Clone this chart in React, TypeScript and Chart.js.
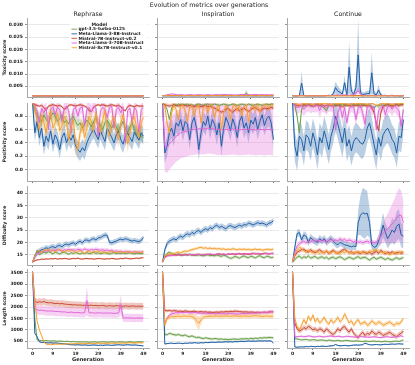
import React, { useEffect, useRef } from 'react';
import { Chart, registerables } from 'chart.js';
Chart.register(...registerables);

const FONT = "'DejaVu Sans', sans-serif";

// ---------- categories / labels ----------
const GENERATION = [
  0, 1, 2, 3, 4, 5, 6, 7, 8, 9,
  10, 11, 12, 13, 14, 15, 16, 17, 18, 19,
  20, 21, 22, 23, 24, 25, 26, 27, 28, 29,
  30, 31, 32, 33, 34, 35, 36, 37, 38, 39,
  40, 41, 42, 43, 44, 45, 46, 47, 48, 49,
];
const X_TICKS = [0, 9, 19, 29, 39, 49];
const SUPTITLE = 'Evolution of metrics over generations';
const TASKS = ['Rephrase', 'Inspiration', 'Continue'];
const METRICS = ['Toxicity score', 'Positivity score', 'Difficulty score', 'Length score'];
const MODELS = [
  'gpt-3.5-turbo-0125',
  'Meta-Llama-3-8B-Instruct',
  'Mistral-7B-Instruct-v0.2',
  'Meta-Llama-3-70B-Instruct',
  'Mistral-8x7B-Instruct-v0.1',
];
const COLORS = ['#6a9e48', '#1f5fa6', '#c9452e', '#e066d6', '#f5a030'];
const Y_TICKS_TOX = [0.005, 0.01, 0.015, 0.02, 0.025, 0.03];
const Y_TICKS_POS = [0, 0.2, 0.4, 0.6, 0.8];
const Y_TICKS_DIFF = [15, 20, 25, 30, 35, 40];
const Y_TICKS_LEN = [500, 1000, 1500, 2000, 2500, 3000, 3500];

// ---------- Toxicity ----------
const tox_reph_gpt = [
  .0011, .0011, .0012, .0011, .0011, .0011, .0012, .0011, .0011, .0011,
  .0011, .0012, .0011, .0011, .0011, .0011, .0011, .0012, .0011, .0011,
  .0011, .0011, .0011, .0012, .0011, .0011, .0011, .0011, .0012, .0011,
  .0011, .0011, .0012, .0011, .0011, .0011, .0011, .0011, .0011, .0012,
  .0011, .0011, .0011, .0011, .0012, .0011, .0011, .0011, .0011, .0011,
];
const tox_reph_llama8 = [
  .0011, .0011, .0011, .0011, .0011, .0011, .0011, .0011, .0011, .0011,
  .0011, .0011, .0011, .0011, .0011, .0011, .0011, .0011, .0011, .0011,
  .0011, .0011, .0011, .0011, .0011, .0011, .0011, .0011, .0011, .0011,
  .0011, .0011, .0011, .0011, .0011, .0011, .0011, .0011, .0011, .0011,
  .0011, .0011, .0011, .0011, .0011, .0011, .0011, .0011, .0011, .0011,
];
const tox_reph_mistral7 = [
  .0011, .0011, .0011, .0011, .0012, .0011, .0011, .0011, .0011, .0011,
  .0011, .0011, .0011, .0011, .0011, .0012, .0011, .0011, .0011, .0011,
  .0011, .0011, .0011, .0011, .0011, .0011, .0011, .0012, .0011, .0011,
  .0011, .0011, .0011, .0011, .0011, .0011, .0012, .0011, .0011, .0011,
  .0011, .0011, .0011, .0011, .0011, .0011, .0011, .0011, .0012, .0011,
];
const tox_reph_llama70 = [
  .0011, .0011, .0011, .0012, .0011, .0011, .0011, .0011, .0011, .0012,
  .0011, .0011, .0011, .0011, .0011, .0011, .0011, .0011, .0012, .0011,
  .0011, .0011, .0012, .0011, .0011, .0011, .0011, .0011, .0011, .0011,
  .0012, .0011, .0011, .0011, .0011, .0011, .0011, .0011, .0012, .0011,
  .0011, .0011, .0011, .0012, .0011, .0011, .0011, .0011, .0011, .0011,
];
const tox_reph_mixtral = [
  .0011, .0011, .0011, .0011, .0011, .0011, .0011, .0011, .0011, .0011,
  .0011, .0011, .0011, .0011, .0011, .0011, .0011, .0011, .0011, .0011,
  .0011, .0011, .0011, .0011, .0011, .0011, .0011, .0011, .0011, .0011,
  .0011, .0011, .0011, .0011, .0011, .0011, .0011, .0011, .0011, .0011,
  .0011, .0011, .0011, .0011, .0011, .0011, .0011, .0011, .0011, .0011,
];
const tox_reph_err = [0.0001, 0.0001, 0.0001, 0.0001, 0.0001];

const tox_insp_gpt = [
  .0012, .0012, .0013, .0012, .0012, .0012, .0013, .0012, .0012, .0012,
  .0012, .0013, .0012, .0012, .0012, .0012, .0012, .0013, .0012, .0012,
  .0012, .0012, .0012, .0013, .0012, .0012, .0012, .0012, .0013, .0012,
  .0012, .0012, .0013, .0012, .0012, .0013, .0015, .0022, .0014, .0012,
  .0012, .0012, .0012, .0012, .0013, .0012, .0012, .0012, .0012, .0012,
];
const tox_insp_gpt_err = [
  .0002, .0002, .0002, .0002, .0002, .0002, .0002, .0002, .0002, .0002,
  .0002, .0002, .0002, .0002, .0002, .0002, .0002, .0002, .0002, .0002,
  .0002, .0002, .0002, .0002, .0002, .0002, .0002, .0002, .0002, .0002,
  .0002, .0002, .0002, .0002, .0002, .0002, .0004, .0013, .0004, .0002,
  .0002, .0002, .0002, .0002, .0002, .0002, .0002, .0002, .0002, .0002,
];
const tox_insp_llama8 = [
  .0011, .0011, .0011, .0011, .0011, .0011, .0011, .0011, .0011, .0011,
  .0011, .0011, .0011, .0011, .0011, .0011, .0011, .0011, .0011, .0011,
  .0011, .0011, .0011, .0011, .0011, .0011, .0011, .0011, .0011, .0011,
  .0011, .0011, .0011, .0011, .0011, .0011, .0011, .0011, .0011, .0011,
  .0011, .0011, .0011, .0011, .0011, .0011, .0011, .0011, .0011, .0011,
];
const tox_insp_mistral7 = [
  .0012, .0012, .0012, .0012, .0012, .0012, .0012, .0012, .0012, .0012,
  .0012, .0012, .0012, .0012, .0012, .0012, .0012, .0012, .0012, .0012,
  .0012, .0012, .0012, .0012, .0012, .0012, .0012, .0012, .0012, .0012,
  .0012, .0012, .0012, .0012, .0012, .0012, .0012, .0012, .0012, .0012,
  .0012, .0012, .0012, .0012, .0012, .0012, .0012, .0012, .0012, .0012,
];
const tox_insp_llama70 = [
  .0012, .0013, .0015, .0017, .0019, .0018, .0016, .0015, .0016, .0015,
  .0014, .0015, .0016, .0015, .0014, .0015, .0016, .0015, .0014, .0015,
  .0016, .0015, .0014, .0015, .0016, .0015, .0016, .0017, .0016, .0015,
  .0016, .0015, .0014, .0015, .0016, .0017, .0016, .0015, .0016, .0015,
  .0016, .0017, .0016, .0015, .0016, .0015, .0016, .0015, .0016, .0015,
];
const tox_insp_mixtral = [
  .0012, .0012, .0012, .0012, .0012, .0012, .0012, .0012, .0012, .0012,
  .0012, .0012, .0012, .0012, .0012, .0012, .0012, .0012, .0012, .0012,
  .0012, .0012, .0012, .0012, .0012, .0012, .0012, .0012, .0012, .0012,
  .0012, .0012, .0012, .0012, .0012, .0012, .0012, .0012, .0012, .0012,
  .0012, .0012, .0012, .0012, .0012, .0012, .0012, .0012, .0012, .0012,
];
const tox_insp_err = [tox_insp_gpt_err, 0.0001, 0.0001, 0.0002, 0.0001];

const tox_cont_gpt = [
  .0012, .0012, .0012, .0012, .0012, .0012, .0012, .0012, .0012, .0012,
  .0012, .0012, .0012, .0012, .0012, .0012, .0012, .0012, .0012, .0012,
  .0012, .0012, .0012, .0012, .0012, .0012, .0012, .0012, .0012, .0012,
  .0012, .0012, .0012, .0012, .0012, .0012, .0012, .0012, .0012, .0012,
  .0012, .0012, .0012, .0012, .0012, .0012, .0012, .0012, .0012, .0012,
];
const tox_cont_llama8 = [
  .0011, .0011, .0011, .0012, .0063, .0012, .0011, .0011, .0011, .0011,
  .0011, .0011, .0011, .0011, .0011, .0012, .0013, .0012, .0020, .0045,
  .0030, .0025, .0018, .0065, .0015, .0128, .0030, .0017, .0045, .0178,
  .0025, .0016, .0018, .0020, .0020, .0105, .0020, .0015, .0035, .0015,
  .0012, .0013, .0011, .0012, .0013, .0011, .0012, .0011, .0011, .0011,
];
const tox_cont_llama8_err = [
  .0002, .0002, .0002, .0003, .0047, .0003, .0002, .0002, .0002, .0002,
  .0002, .0002, .0002, .0002, .0002, .0003, .0004, .0003, .0010, .0024,
  .0020, .0015, .0010, .0030, .0008, .0107, .0020, .0010, .0030, .0147,
  .0015, .0010, .0010, .0012, .0012, .0085, .0012, .0008, .0020, .0008,
  .0003, .0004, .0002, .0003, .0004, .0002, .0003, .0002, .0002, .0002,
];
const tox_cont_mistral7 = [
  .0012, .0012, .0012, .0012, .0012, .0012, .0012, .0012, .0012, .0012,
  .0012, .0012, .0012, .0012, .0012, .0012, .0012, .0012, .0012, .0012,
  .0012, .0012, .0012, .0012, .0012, .0012, .0012, .0012, .0012, .0012,
  .0012, .0012, .0012, .0012, .0012, .0012, .0012, .0012, .0012, .0012,
  .0012, .0012, .0012, .0012, .0012, .0012, .0012, .0012, .0012, .0012,
];
const tox_cont_llama70 = [
  .0012, .0012, .0012, .0012, .0012, .0012, .0012, .0012, .0012, .0012,
  .0012, .0012, .0012, .0012, .0012, .0012, .0012, .0012, .0013, .0014,
  .0014, .0013, .0014, .0015, .0014, .0013, .0014, .0016, .0024, .0032,
  .0020, .0014, .0013, .0012, .0012, .0012, .0012, .0012, .0012, .0012,
  .0012, .0012, .0012, .0012, .0012, .0012, .0012, .0012, .0012, .0012,
];
const tox_cont_llama70_err = [
  .0002, .0002, .0002, .0002, .0002, .0002, .0002, .0002, .0002, .0002,
  .0002, .0002, .0002, .0002, .0002, .0002, .0002, .0002, .0002, .0002,
  .0002, .0002, .0002, .0002, .0002, .0002, .0002, .0004, .0008, .0012,
  .0006, .0003, .0002, .0002, .0002, .0002, .0002, .0002, .0002, .0002,
  .0002, .0002, .0002, .0002, .0002, .0002, .0002, .0002, .0002, .0002,
];
const tox_cont_mixtral = [
  .0011, .0011, .0011, .0011, .0011, .0011, .0011, .0011, .0011, .0011,
  .0011, .0011, .0011, .0011, .0011, .0011, .0011, .0011, .0011, .0011,
  .0011, .0011, .0011, .0011, .0011, .0011, .0011, .0011, .0011, .0011,
  .0011, .0011, .0011, .0011, .0011, .0011, .0011, .0011, .0011, .0011,
  .0011, .0011, .0011, .0011, .0011, .0011, .0011, .0011, .0011, .0011,
];
const tox_cont_err = [0.0001, tox_cont_llama8_err, 0.0001, tox_cont_llama70_err, 0.0001];

// ---------- Positivity ----------
const pos_reph_gpt = [
  1.0, 0.90, 0.80, 0.78, 0.72, 0.82, 0.75, 0.70, 0.78, 0.85,
  0.80, 0.72, 0.76, 0.82, 0.70, 0.74, 0.68, 0.76, 0.80, 0.72,
  0.66, 0.70, 0.62, 0.68, 0.74, 0.70, 0.64, 0.72, 0.78, 0.70,
  0.66, 0.60, 0.70, 0.74, 0.68, 0.62, 0.70, 0.64, 0.58, 0.66,
  0.72, 0.62, 0.56, 0.64, 0.70, 0.60, 0.52, 0.58, 0.50, 0.48,
];
const pos_reph_llama8 = [
  1.0, 0.55, 0.72, 0.48, 0.62, 0.35, 0.50, 0.42, 0.58, 0.38,
  0.52, 0.45, 0.30, 0.48, 0.55, 0.40, 0.50, 0.44, 0.52, 0.36,
  0.30, 0.26, 0.33, 0.28, 0.40, 0.48, 0.55, 0.60, 0.52, 0.45,
  0.58, 0.50, 0.42, 0.62, 0.55, 0.48, 0.40, 0.52, 0.58, 0.45,
  0.38, 0.50, 0.55, 0.48, 0.42, 0.56, 0.50, 0.44, 0.55, 0.50,
];
const pos_reph_mistral7 = [
  1.0, 0.97, 0.96, 0.95, 0.96, 0.93, 0.88, 0.95, 0.96, 0.97,
  0.96, 0.95, 0.96, 0.94, 0.90, 0.92, 0.96, 0.97, 0.96, 0.95,
  0.96, 0.97, 0.96, 0.95, 0.93, 0.88, 0.87, 0.93, 0.96, 0.97,
  0.96, 0.97, 0.96, 0.95, 0.96, 0.97, 0.96, 0.95, 0.96, 0.94,
  0.90, 0.88, 0.94, 0.96, 0.95, 0.94, 0.96, 0.95, 0.95, 0.95,
];
const pos_reph_llama70 = [
  1.0, 0.95, 0.88, 0.70, 0.92, 0.85, 0.93, 0.60, 0.90, 0.94,
  0.82, 0.93, 0.90, 0.72, 0.92, 0.95, 0.88, 0.55, 0.90, 0.93,
  0.80, 0.92, 0.94, 0.65, 0.90, 0.93, 0.86, 0.95, 0.92, 0.50,
  0.88, 0.93, 0.90, 0.78, 0.93, 0.95, 0.62, 0.90, 0.93, 0.85,
  0.94, 0.40, 0.88, 0.92, 0.70, 0.93, 0.88, 0.55, 0.90, 0.92,
];
const pos_reph_mixtral = [
  1.0, 0.92, 0.75, 0.60, 0.82, 0.70, 0.55, 0.78, 0.88, 0.62,
  0.70, 0.85, 0.58, 0.66, 0.80, 0.72, 0.45, 0.62, 0.75, 0.40,
  0.30, 0.55, 0.70, 0.48, 0.62, 0.80, 0.72, 0.58, 0.85, 0.68,
  0.55, 0.75, 0.88, 0.62, 0.50, 0.72, 0.80, 0.58, 0.45, 0.70,
  0.82, 0.60, 0.38, 0.55, 0.72, 0.80, 0.62, 0.48, 0.70, 0.78,
];
const pos_reph_err = [0.08, 0.13, 0.02, 0.10, 0.12];

const pos_insp_gpt = [
  1.0, 0.96, 0.90, 0.75, 0.92, 0.97, 0.96, 0.98, 0.97, 0.96,
  0.97, 0.98, 0.96, 0.97, 0.95, 0.97, 0.98, 0.97, 0.96, 0.97,
  0.98, 0.96, 0.97, 0.98, 0.97, 0.96, 0.97, 0.98, 0.97, 0.96,
  0.97, 0.98, 0.97, 0.96, 0.97, 0.98, 0.97, 0.96, 0.98, 0.97,
  0.96, 0.97, 0.98, 0.97, 0.96, 0.97, 0.98, 0.97, 0.98, 0.98,
];
const pos_insp_llama8 = [
  0.98, 0.25, 0.35, 0.55, 0.62, 0.50, 0.70, 0.65, 0.75, 0.58,
  0.72, 0.68, 0.45, 0.70, 0.78, 0.62, 0.30, 0.55, 0.72, 0.66,
  0.80, 0.60, 0.75, 0.68, 0.52, 0.70, 0.35, 0.62, 0.78, 0.70,
  0.58, 0.76, 0.66, 0.48, 0.72, 0.80, 0.62, 0.70, 0.55, 0.74,
  0.68, 0.78, 0.60, 0.72, 0.82, 0.66, 0.76, 0.80, 0.70, 0.45,
];
const pos_insp_mistral7 = [
  1.0, 0.97, 0.96, 0.95, 0.96, 0.97, 0.96, 0.95, 0.96, 0.97,
  0.96, 0.95, 0.96, 0.95, 0.94, 0.96, 0.95, 0.94, 0.95, 0.96,
  0.94, 0.95, 0.93, 0.92, 0.90, 0.88, 0.86, 0.87, 0.90, 0.92,
  0.88, 0.86, 0.89, 0.91, 0.88, 0.90, 0.92, 0.89, 0.87, 0.90,
  0.92, 0.93, 0.90, 0.88, 0.90, 0.92, 0.91, 0.92, 0.93, 0.92,
];
const pos_insp_llama70 = [
  0.97, 0.35, 0.33, 0.38, 0.42, 0.46, 0.50, 0.52, 0.55, 0.56,
  0.57, 0.58, 0.59, 0.60, 0.60, 0.61, 0.61, 0.61, 0.61, 0.61,
  0.62, 0.62, 0.61, 0.61, 0.60, 0.60, 0.60, 0.59, 0.60, 0.60,
  0.60, 0.61, 0.60, 0.60, 0.59, 0.60, 0.60, 0.60, 0.61, 0.60,
  0.60, 0.59, 0.60, 0.60, 0.60, 0.59, 0.60, 0.60, 0.60, 0.59,
];
const pos_insp_mixtral = [
  1.0, 0.95, 0.70, 0.55, 0.85, 0.96, 0.90, 0.75, 0.95, 0.97,
  0.88, 0.72, 0.94, 0.96, 0.80, 0.95, 0.97, 0.70, 0.92, 0.96,
  0.85, 0.97, 0.95, 0.78, 0.93, 0.96, 0.60, 0.85, 0.96, 0.92,
  0.75, 0.95, 0.97, 0.88, 0.96, 0.80, 0.94, 0.97, 0.72, 0.93,
  0.96, 0.90, 0.97, 0.85, 0.95, 0.97, 0.96, 0.92, 0.97, 0.96,
];
const pos_insp_err = [0.02, 0.15, 0.03, 0.38, 0.06];

const pos_cont_gpt = [
  1.0, 0.97, 0.80, 0.55, 0.90, 0.97, 0.96, 0.98, 0.97, 0.96,
  0.97, 0.98, 0.96, 0.95, 0.92, 0.88, 0.96, 0.97, 0.98, 0.97,
  0.96, 0.97, 0.98, 0.97, 0.96, 0.97, 0.98, 0.97, 0.96, 0.97,
  0.98, 0.97, 0.96, 0.97, 0.98, 0.94, 0.92, 0.96, 0.95, 0.97,
  0.96, 0.97, 0.98, 0.97, 0.96, 0.97, 0.98, 0.97, 0.98, 0.98,
];
const pos_cont_llama8 = [
  1.0, 0.35, 0.20, 0.50, 0.45, 0.28, 0.52, 0.48, 0.35, 0.55,
  0.42, 0.22, 0.48, 0.40, 0.58, 0.45, 0.30, 0.50, 0.62, 0.80,
  0.68, 0.55, 0.40, 0.62, 0.35, 0.45, 0.28, 0.42, 0.48, 0.45,
  0.40, 0.38, 0.45, 0.62, 0.70, 0.55, 0.38, 0.22, 0.48, 0.35,
  0.52, 0.58, 0.62, 0.55, 0.45, 0.40, 0.25, 0.50, 0.48, 0.75,
];
const pos_cont_mistral7 = [
  1.0, 0.97, 0.96, 0.95, 0.96, 0.97, 0.96, 0.97, 0.96, 0.95,
  0.96, 0.97, 0.96, 0.97, 0.95, 0.96, 0.97, 0.96, 0.95, 0.96,
  0.97, 0.96, 0.94, 0.96, 0.97, 0.96, 0.95, 0.96, 0.97, 0.96,
  0.95, 0.96, 0.97, 0.95, 0.96, 0.93, 0.85, 0.70, 0.58, 0.85,
  0.95, 0.96, 0.97, 0.96, 0.95, 0.96, 0.97, 0.96, 0.97, 0.97,
];
const pos_cont_llama70 = [
  1.0, 0.97, 0.92, 0.95, 0.96, 0.90, 0.95, 0.97, 0.94, 0.96,
  0.95, 0.97, 0.88, 0.96, 0.95, 0.92, 0.96, 0.97, 0.95, 0.60,
  0.85, 0.95, 0.78, 0.93, 0.70, 0.90, 0.96, 0.94, 0.75, 0.92,
  0.95, 0.85, 0.68, 0.94, 0.96, 0.90, 0.95, 0.60, 0.88, 0.93,
  0.96, 0.82, 0.94, 0.95, 0.90, 0.96, 0.92, 0.88, 0.65, 0.90,
];
const pos_cont_mixtral = [
  1.0, 0.99, 0.98, 0.97, 0.98, 0.99, 0.98, 0.99, 0.98, 0.97,
  0.98, 0.99, 0.98, 0.99, 0.98, 0.99, 0.98, 0.97, 0.98, 0.99,
  0.98, 0.99, 0.98, 0.99, 0.98, 0.97, 0.98, 0.99, 0.98, 0.99,
  0.98, 0.99, 0.98, 0.97, 0.98, 0.99, 0.98, 0.96, 0.97, 0.98,
  0.99, 0.98, 0.99, 0.98, 0.97, 0.98, 0.99, 0.98, 0.99, 0.99,
];
const pos_cont_err = [0.03, 0.22, 0.03, 0.10, 0.01];

// ---------- Difficulty ----------
const diff_reph_gpt = [
  12.0, 14.0, 16.8, 15.0, 15.5, 16.0, 15.6, 16.2, 15.8, 15.4,
  16.0, 15.7, 15.3, 15.8, 16.0, 15.6, 15.2, 15.8, 15.5, 15.9,
  15.6, 15.3, 15.7, 15.5, 15.8, 15.4, 15.6, 15.9, 15.5, 15.7,
  15.4, 15.6, 15.8, 15.5, 15.3, 15.6, 15.8, 15.4, 15.6, 15.5,
  15.7, 15.4, 15.6, 15.8, 15.5, 15.3, 15.6, 15.5, 15.4, 15.5,
];
const diff_reph_llama8 = [
  12.0, 14.5, 15.8, 16.5, 17.0, 17.2, 17.8, 17.5, 18.0, 18.3,
  17.8, 18.5, 18.8, 18.2, 19.0, 19.3, 19.0, 19.5, 19.8, 19.2,
  20.0, 20.5, 19.8, 20.8, 21.0, 20.5, 21.2, 21.5, 21.0, 21.8,
  22.0, 22.5, 23.0, 22.8, 20.0, 19.8, 20.2, 20.5, 21.0, 21.3,
  21.0, 21.5, 21.2, 20.8, 20.5, 20.8, 20.5, 20.3, 20.8, 22.0,
];
const diff_reph_mistral7 = [
  12.0, 12.5, 12.9, 13.0, 13.2, 13.1, 13.3, 13.2, 13.4, 13.3,
  13.5, 13.2, 13.4, 13.3, 13.5, 13.4, 13.2, 13.3, 13.5, 13.4,
  13.6, 13.3, 13.2, 13.4, 13.5, 13.3, 13.4, 13.2, 13.3, 13.5,
  13.4, 13.3, 13.2, 13.4, 13.3, 13.5, 13.4, 13.2, 13.3, 13.5,
  13.4, 13.6, 13.5, 13.3, 13.4, 13.5, 13.6, 13.5, 13.7, 13.8,
];
const diff_reph_llama70 = [
  12.0, 14.0, 15.2, 15.8, 16.2, 16.5, 16.3, 16.8, 16.5, 16.9,
  16.6, 17.0, 16.8, 16.5, 17.0, 16.8, 17.2, 16.9, 17.0, 16.8,
  17.2, 17.0, 16.8, 17.3, 17.0, 16.8, 17.1, 16.9, 17.2, 17.0,
  16.8, 17.0, 16.7, 16.9, 16.5, 16.8, 16.3, 16.5, 16.2, 16.4,
  16.0, 16.3, 16.1, 16.2, 16.0, 16.2, 15.9, 16.1, 16.0, 16.2,
];
const diff_reph_mixtral = [
  12.0, 14.5, 16.0, 16.8, 15.8, 17.2, 16.5, 17.5, 16.2, 17.0,
  16.0, 16.8, 17.2, 16.5, 16.0, 16.8, 16.3, 17.0, 16.5, 15.8,
  16.2, 16.8, 16.0, 15.5, 16.2, 16.5, 15.8, 16.4, 16.0, 16.6,
  15.9, 16.3, 16.0, 15.7, 16.2, 16.5, 16.0, 15.8, 16.3, 16.1,
  15.8, 16.0, 16.4, 16.0, 15.7, 16.1, 16.3, 15.9, 16.0, 16.2,
];
const diff_reph_err = [0.5, 1.1, 0.3, 0.8, 0.5];

const diff_insp_gpt = [
  12.0, 14.5, 15.5, 16.0, 15.5, 15.2, 15.0, 15.3, 14.8, 15.0,
  15.2, 14.9, 15.1, 14.8, 15.0, 14.7, 15.0, 14.8, 14.5, 14.8,
  15.0, 14.6, 14.8, 14.5, 14.9, 14.6, 14.3, 14.8, 14.5, 14.0,
  13.5, 13.8, 14.3, 14.0, 13.6, 14.2, 14.5, 14.0, 13.8, 14.4,
  14.1, 13.7, 14.3, 14.6, 14.0, 13.8, 14.4, 14.2, 13.8, 14.0,
];
const diff_insp_llama8 = [
  12.0, 17.0, 19.5, 20.5, 21.0, 21.5, 21.0, 22.0, 22.5, 22.0,
  23.0, 23.5, 23.0, 24.0, 23.5, 24.5, 24.8, 24.0, 25.0, 25.5,
  25.0, 26.0, 25.5, 26.5, 27.0, 26.0, 26.5, 26.0, 25.5, 26.5,
  26.8, 26.3, 26.0, 26.5, 27.0, 26.5, 27.2, 27.0, 27.8, 27.5,
  27.0, 27.5, 28.0, 27.6, 27.8, 27.5, 27.0, 27.8, 28.0, 28.8,
];
const diff_insp_mistral7 = [
  12.0, 14.0, 14.6, 14.8, 14.7, 14.9, 14.8, 15.0, 14.9, 14.8,
  15.0, 14.9, 15.1, 15.0, 14.8, 15.0, 15.2, 14.9, 15.1, 15.0,
  15.2, 15.1, 14.9, 15.0, 15.2, 15.3, 15.1, 15.2, 15.0, 15.3,
  15.2, 15.4, 15.1, 15.3, 15.5, 15.2, 15.4, 15.3, 15.1, 15.4,
  15.6, 15.3, 15.5, 15.2, 15.4, 15.6, 15.5, 15.3, 15.5, 15.6,
];
const diff_insp_llama70 = [
  12.0, 13.8, 14.5, 14.6, 14.8, 14.7, 14.9, 14.8, 15.0, 14.9,
  15.0, 14.8, 15.1, 15.0, 14.9, 15.2, 15.0, 15.1, 14.9, 15.2,
  15.0, 15.3, 15.1, 15.0, 15.2, 15.4, 15.1, 15.3, 15.0, 15.2,
  15.4, 15.1, 15.3, 15.5, 15.2, 15.4, 15.1, 15.3, 15.5, 15.2,
  15.4, 15.6, 15.3, 15.5, 15.2, 15.4, 15.6, 15.3, 15.5, 15.4,
];
const diff_insp_mixtral = [
  12.0, 14.5, 15.0, 15.2, 15.5, 15.3, 15.8, 16.0, 15.7, 16.2,
  16.5, 16.3, 16.8, 17.0, 17.3, 17.5, 17.8, 18.0, 17.6, 17.8,
  17.5, 17.7, 17.4, 17.6, 17.3, 17.5, 17.2, 17.4, 17.0, 17.3,
  17.1, 17.4, 17.2, 17.0, 17.3, 17.1, 17.3, 17.0, 17.2, 16.9,
  17.1, 17.3, 17.0, 17.2, 16.8, 17.0, 17.2, 17.1, 17.0, 17.3,
];
const diff_insp_err = [0.6, 1.2, 0.4, 0.4, 0.6];

const diff_cont_gpt = [
  12.0, 13.0, 14.0, 14.5, 13.5, 14.2, 13.8, 14.5, 13.6, 14.0,
  14.3, 13.5, 13.8, 14.2, 13.5, 14.0, 13.2, 13.8, 14.0, 13.4,
  13.8, 14.2, 13.6, 13.0, 13.5, 14.0, 13.6, 13.2, 13.8, 14.2,
  13.5, 13.8, 14.0, 13.4, 12.8, 13.5, 14.0, 13.2, 13.6, 14.0,
  13.5, 13.0, 13.6, 13.2, 12.8, 13.4, 13.8, 13.2, 13.5, 13.8,
];
const diff_cont_llama8 = [
  12.0, 18.0, 23.5, 24.0, 21.0, 23.0, 22.5, 20.0, 22.0, 21.0,
  20.5, 20.0, 21.5, 20.5, 21.5, 20.0, 20.8, 21.5, 20.5, 19.5,
  19.0, 20.0, 19.5, 19.0, 18.8, 18.5, 18.2, 18.5, 18.3, 28.0,
  31.0, 32.0, 31.5, 31.8, 28.0, 19.0, 18.0, 18.3, 20.5, 23.0,
  27.0, 24.0, 21.5, 23.0, 25.0, 24.0, 26.5, 27.5, 23.0, 22.5,
];
const diff_cont_llama8_err = [
  0.3, 1.5, 1.5, 1.5, 1.5, 1.5, 1.5, 1.5, 1.5, 1.5,
  1.5, 1.5, 1.5, 1.5, 1.5, 1.5, 1.5, 1.5, 1.5, 1.5,
  1.5, 1.5, 1.5, 1.5, 1.5, 1.5, 1.5, 1.5, 1.5, 5.0,
  8.0, 10.0, 10.0, 9.0, 6.0, 2.0, 2.0, 2.0, 2.5, 4.0,
  5.0, 4.0, 4.0, 4.0, 5.0, 5.0, 6.0, 6.0, 5.0, 5.0,
];
const diff_cont_mistral7 = [
  12.0, 14.5, 16.0, 16.5, 17.0, 17.2, 16.5, 16.0, 17.0, 16.3,
  15.8, 16.5, 17.0, 16.2, 15.8, 16.5, 15.5, 16.2, 16.8, 16.0,
  15.6, 16.2, 16.8, 17.2, 16.5, 15.8, 16.2, 15.5, 16.0, 15.8,
  15.5, 16.2, 15.8, 15.5, 16.0, 15.2, 15.8, 16.3, 15.5, 16.8,
  16.0, 15.4, 16.0, 15.6, 16.2, 15.5, 15.8, 16.0, 15.6, 15.8,
];
const diff_cont_llama70 = [
  12.0, 16.0, 18.5, 19.5, 20.0, 20.5, 19.8, 20.5, 20.2, 21.0,
  20.5, 20.8, 20.3, 21.0, 20.6, 20.2, 20.8, 21.2, 20.5, 21.0,
  20.7, 21.5, 20.8, 21.2, 20.5, 21.0, 20.6, 20.2, 20.5, 20.0,
  20.3, 19.8, 20.2, 20.5, 20.0, 20.3, 19.8, 20.2, 21.0, 22.5,
  23.5, 25.0, 25.5, 26.5, 27.5, 28.5, 30.0, 31.0, 31.0, 28.0,
];
const diff_cont_llama70_err = [
  0.3, 1.0, 1.0, 1.0, 1.0, 1.0, 1.0, 1.0, 1.0, 1.0,
  1.0, 1.0, 1.0, 1.0, 1.0, 1.0, 1.0, 1.0, 1.0, 1.0,
  1.0, 1.0, 1.0, 1.0, 1.0, 1.0, 1.0, 1.0, 1.0, 1.0,
  1.0, 1.0, 1.0, 1.0, 1.0, 1.0, 1.0, 1.0, 2.0, 3.0,
  4.0, 5.0, 6.0, 7.0, 8.0, 9.0, 10.0, 11.0, 10.0, 9.0,
];
const diff_cont_mixtral = [
  12.0, 15.0, 17.0, 18.0, 17.5, 16.5, 16.0, 17.0, 16.2, 15.8,
  16.5, 16.0, 15.5, 16.2, 15.8, 16.5, 16.0, 15.6, 16.3, 15.8,
  16.0, 15.5, 16.2, 15.8, 16.5, 16.0, 15.5, 16.0, 15.8, 16.3,
  16.0, 15.6, 16.2, 15.8, 16.5, 16.2, 16.8, 17.0, 16.5, 16.0,
  15.8, 16.3, 15.5, 15.0, 15.6, 16.0, 15.4, 15.8, 16.2, 16.0,
];
const diff_cont_err = [0.7, diff_cont_llama8_err, 0.8, diff_cont_llama70_err, 0.8];

// ---------- Length ----------
const len_reph_gpt = [
  3550, 1500, 560, 540, 530, 520, 530, 520, 510, 520,
  510, 500, 510, 500, 490, 500, 490, 480, 490, 480,
  470, 480, 470, 480, 470, 460, 470, 480, 470, 460,
  470, 480, 470, 460, 470, 480, 470, 460, 470, 480,
  470, 460, 470, 480, 470, 460, 470, 480, 470, 480,
];
const len_reph_llama8 = [
  3550, 850, 700, 480, 450, 450, 440, 430, 440, 420,
  430, 420, 410, 400, 390, 380, 360, 350, 350, 340,
  350, 340, 330, 340, 330, 320, 330, 340, 330, 320,
  330, 320, 330, 340, 330, 320, 330, 340, 350, 340,
  330, 340, 350, 340, 330, 340, 330, 320, 310, 300,
];
const len_reph_mistral7 = [
  3550, 2250, 2200, 2230, 2210, 2240, 2200, 2180, 2190, 2170,
  2150, 2160, 2140, 2150, 2130, 2120, 2110, 2100, 2090, 2100,
  2080, 2090, 2070, 2080, 2060, 2070, 2080, 2060, 2070, 2050,
  2060, 2070, 2050, 2040, 2060, 2050, 2040, 2060, 2050, 2040,
  2030, 2050, 2040, 2030, 2050, 2040, 2030, 2040, 2030, 2040,
];
const len_reph_llama70 = [
  3550, 1950, 1880, 1850, 1860, 1840, 1830, 1820, 1830, 1820,
  1810, 1800, 1800, 1780, 1790, 1770, 1760, 1780, 1760, 1750,
  1760, 1750, 1740, 1750, 2280, 1740, 1750, 1740, 1730, 1750,
  1740, 1730, 1740, 1730, 1740, 1730, 1720, 1730, 1740, 2100,
  1530, 1520, 1530, 1520, 1520, 1510, 1520, 1520, 1510, 1520,
];
const len_reph_llama70_err = [
  60, 200, 200, 200, 200, 200, 200, 200, 200, 200,
  200, 200, 200, 200, 200, 200, 200, 200, 200, 200,
  200, 200, 200, 200, 650, 200, 200, 200, 200, 200,
  200, 200, 200, 200, 200, 200, 200, 200, 200, 450,
  180, 180, 180, 180, 180, 180, 180, 180, 180, 180,
];
const len_reph_mixtral = [
  3550, 2300, 1400, 1000, 750, 480, 380, 360, 370, 360,
  380, 370, 380, 370, 390, 380, 390, 380, 390, 400,
  390, 400, 390, 400, 410, 400, 410, 400, 410, 420,
  410, 400, 410, 420, 410, 420, 410, 420, 430, 420,
  430, 420, 430, 440, 430, 420, 430, 440, 430, 440,
];
const len_reph_err = [30, 30, 150, len_reph_llama70_err, 40];

const len_insp_gpt = [
  3550, 800, 780, 850, 820, 790, 770, 800, 760, 740,
  780, 720, 700, 740, 690, 660, 680, 640, 620, 650,
  630, 610, 600, 620, 610, 590, 600, 580, 590, 570,
  580, 590, 600, 580, 590, 610, 600, 620, 600, 630,
  610, 640, 620, 650, 640, 660, 650, 670, 660, 650,
];
const len_insp_llama8 = [
  3550, 380, 400, 410, 420, 400, 410, 420, 410, 400,
  420, 410, 430, 420, 440, 430, 420, 440, 430, 450,
  440, 450, 460, 450, 460, 470, 460, 470, 480, 470,
  480, 470, 490, 480, 490, 500, 490, 500, 510, 500,
  510, 500, 510, 520, 510, 520, 510, 520, 510, 420,
];
const len_insp_mistral7 = [
  3550, 1850, 1830, 1850, 1820, 1840, 1830, 1810, 1820, 1800,
  1830, 1810, 1790, 1800, 1820, 1790, 1780, 1800, 1780, 1790,
  1770, 1780, 1760, 1770, 1780, 1770, 1790, 1780, 1800, 1790,
  1810, 1800, 1820, 1810, 1800, 1790, 1780, 1790, 1770, 1780,
  1770, 1760, 1770, 1750, 1760, 1770, 1760, 1780, 1790, 1780,
];
const len_insp_llama70 = [
  3550, 1300, 1500, 1650, 1700, 1720, 1750, 1740, 1760, 1750,
  1770, 1760, 1750, 1740, 1760, 1750, 1740, 1730, 1720, 1730,
  1720, 1710, 1720, 1700, 1710, 1720, 1700, 1710, 1700, 1710,
  1720, 1710, 1700, 1690, 1700, 1710, 1720, 1710, 1720, 1730,
  1740, 1730, 1740, 1750, 1760, 1770, 1760, 1780, 1790, 1800,
];
const len_insp_mixtral = [
  3550, 1200, 1500, 1550, 1580, 1570, 1590, 1600, 1580, 1600,
  1610, 1590, 1600, 1580, 1550, 1400, 1280, 1450, 1550, 1580,
  1590, 1600, 1590, 1600, 1610, 1600, 1590, 1600, 1610, 1600,
  1590, 1600, 1610, 1600, 1590, 1600, 1610, 1600, 1590, 1600,
  1610, 1620, 1610, 1600, 1590, 1600, 1610, 1600, 1590, 1600,
];
const len_insp_mixtral_err = [
  60, 150, 100, 100, 100, 100, 100, 100, 100, 100,
  100, 100, 100, 100, 150, 250, 300, 200, 100, 100,
  100, 100, 100, 100, 100, 100, 100, 100, 100, 100,
  100, 100, 100, 100, 100, 100, 100, 100, 100, 100,
  100, 100, 100, 100, 100, 100, 100, 100, 100, 100,
];
const len_insp_err = [60, 30, 70, 80, len_insp_mixtral_err];

const len_cont_gpt = [
  3550, 620, 600, 580, 560, 570, 580, 560, 550, 570,
  560, 540, 550, 560, 540, 530, 550, 540, 520, 530,
  540, 520, 510, 530, 540, 520, 510, 500, 520, 510,
  500, 490, 510, 500, 490, 500, 510, 490, 500, 480,
  490, 500, 490, 480, 490, 500, 510, 490, 520, 560,
];
const len_cont_llama8 = [
  3550, 250, 240, 250, 260, 250, 270, 260, 280, 270,
  260, 280, 270, 290, 280, 270, 290, 300, 310, 360,
  320, 300, 310, 320, 310, 300, 320, 330, 340, 330,
  340, 350, 420, 380, 350, 340, 350, 360, 350, 340,
  360, 370, 360, 370, 380, 370, 380, 390, 380, 380,
];
const len_cont_mistral7 = [
  3550, 1300, 1050, 950, 1000, 1100, 1050, 1150, 1100, 1000,
  1050, 950, 1050, 1000, 900, 1050, 950, 850, 800, 900,
  1050, 950, 1100, 1150, 1000, 900, 1050, 850, 750, 650,
  800, 900, 750, 850, 800, 950, 850, 800, 900, 850,
  750, 800, 850, 900, 800, 750, 700, 800, 850, 950,
];
const len_cont_llama70 = [
  3550, 700, 700, 710, 720, 700, 710, 730, 720, 700,
  690, 710, 720, 700, 690, 710, 720, 730, 710, 700,
  720, 710, 690, 700, 720, 710, 700, 690, 680, 700,
  710, 700, 690, 680, 670, 690, 700, 680, 670, 660,
  680, 690, 700, 680, 670, 690, 700, 720, 740, 700,
];
const len_cont_mixtral = [
  3550, 1500, 1150, 1000, 1200, 1450, 1250, 1600, 1400, 1650,
  1350, 1500, 1300, 1400, 1550, 1350, 1250, 1450, 1300, 1400,
  1550, 1350, 1450, 1700, 1500, 1300, 1400, 1200, 1350, 1450,
  1250, 1300, 1350, 1200, 1250, 1400, 1300, 1250, 1350, 1300,
  1200, 1250, 1300, 1350, 1250, 1200, 1300, 1250, 1350, 1500,
];
const len_cont_err = [40, 25, 110, 40, 100];

// ---------- table built from the arrays ----------
const PANELS = [
  [
    { series: [tox_reph_gpt, tox_reph_llama8, tox_reph_mistral7, tox_reph_llama70, tox_reph_mixtral], err: tox_reph_err },
    { series: [tox_insp_gpt, tox_insp_llama8, tox_insp_mistral7, tox_insp_llama70, tox_insp_mixtral], err: tox_insp_err },
    { series: [tox_cont_gpt, tox_cont_llama8, tox_cont_mistral7, tox_cont_llama70, tox_cont_mixtral], err: tox_cont_err },
  ],
  [
    { series: [pos_reph_gpt, pos_reph_llama8, pos_reph_mistral7, pos_reph_llama70, pos_reph_mixtral], err: pos_reph_err },
    { series: [pos_insp_gpt, pos_insp_llama8, pos_insp_mistral7, pos_insp_llama70, pos_insp_mixtral], err: pos_insp_err },
    { series: [pos_cont_gpt, pos_cont_llama8, pos_cont_mistral7, pos_cont_llama70, pos_cont_mixtral], err: pos_cont_err },
  ],
  [
    { series: [diff_reph_gpt, diff_reph_llama8, diff_reph_mistral7, diff_reph_llama70, diff_reph_mixtral], err: diff_reph_err },
    { series: [diff_insp_gpt, diff_insp_llama8, diff_insp_mistral7, diff_insp_llama70, diff_insp_mixtral], err: diff_insp_err },
    { series: [diff_cont_gpt, diff_cont_llama8, diff_cont_mistral7, diff_cont_llama70, diff_cont_mixtral], err: diff_cont_err },
  ],
  [
    { series: [len_reph_gpt, len_reph_llama8, len_reph_mistral7, len_reph_llama70, len_reph_mixtral], err: len_reph_err },
    { series: [len_insp_gpt, len_insp_llama8, len_insp_mistral7, len_insp_llama70, len_insp_mixtral], err: len_insp_err },
    { series: [len_cont_gpt, len_cont_llama8, len_cont_mistral7, len_cont_llama70, len_cont_mixtral], err: len_cont_err },
  ],
];
const Y_TICKS = [Y_TICKS_TOX, Y_TICKS_POS, Y_TICKS_DIFF, Y_TICKS_LEN];

// ---------- layout ----------
const PANEL_W = 122;
const COL_LEFT = [27, 157, 287];
const ROW_TOP = [18, 103, 186, 269];
const ROW_H = [79, 78, 79, 79];
const Y_MIN = [0.00064, -0.169, 10.82, 206];
const Y_MAX = [0.0328, 0.996, 42.85, 3663];
const X_MIN = -2.45;
const X_MAX = 51.45;
const PAD_R = 6;
const TEXT = '#222222';
const GRID = '#e3e3e3';
const SPINE = '#a8a8a8';
const TICK = '#777777';

function rgba(hex: string, a: number) {
  const n = parseInt(hex.slice(1), 16);
  return `rgba(${(n >> 16) & 255},${(n >> 8) & 255},${n & 255},${a})`;
}

function geometry(r: number, c: number) {
  const padL = c === 0 ? 27 : 9;
  const padB = r === 3 ? 17 : 6;
  const padT = r === 0 ? ROW_TOP[0] : 6;
  return {
    padL,
    padB,
    padT,
    left: COL_LEFT[c] - padL,
    top: ROW_TOP[r] - padT,
    width: padL + PANEL_W + PAD_R,
    height: padT + ROW_H[r] + padB,
  };
}

// draws the column titles (and the figure title) above the top row of panels
function titlePlugin(c: number, canvasLeft: number, canvasTop: number) {
  return {
    id: 'panelTitles',
    afterDraw(chart: any) {
      const { ctx, chartArea: a } = chart;
      ctx.save();
      ctx.fillStyle = TEXT;
      ctx.textAlign = 'center';
      ctx.textBaseline = 'middle';
      ctx.font = `6.2px ${FONT}`;
      ctx.fillText(TASKS[c], (a.left + a.right) / 2, 14.7 - canvasTop);
      if (c === 1) {
        ctx.font = `6.3px ${FONT}`;
        ctx.fillText(SUPTITLE, 209 - canvasLeft, 5.2 - canvasTop);
      }
      ctx.restore();
    },
  };
}

const legendPlugin = {
  id: 'modelLegend',
  afterDatasetsDraw(chart: any) {
    const { ctx, chartArea: a } = chart;
    ctx.save();
    ctx.fillStyle = 'rgba(255,255,255,0.85)';
    ctx.fillRect(a.left + 43, a.top + 2.5, 78, 30);
    ctx.fillStyle = TEXT;
    ctx.textBaseline = 'middle';
    ctx.textAlign = 'center';
    ctx.font = `bold 4.6px ${FONT}`;
    ctx.fillText('Model', a.left + 72.3, a.top + 6.5);
    ctx.textAlign = 'left';
    ctx.font = `bold 4.3px ${FONT}`;
    MODELS.forEach((m, k) => {
      const y = a.top + 11.2 + k * 4.6;
      ctx.strokeStyle = rgba(COLORS[k], 0.7);
      ctx.lineWidth = 1.3;
      ctx.beginPath();
      ctx.moveTo(a.left + 44.5, y);
      ctx.lineTo(a.left + 50, y);
      ctx.stroke();
      ctx.fillStyle = TEXT;
      ctx.fillText(m, a.left + 51.5, y);
    });
    ctx.restore();
  },
};

function buildConfig(r: number, c: number): any {
  const panel = PANELS[r][c];
  const g = geometry(r, c);
  const datasets: any[] = [];
  panel.series.forEach((mean: number[], k: number) => {
    const e: any = panel.err[k];
    const errAt = (i: number) => (Array.isArray(e) ? e[i] : e);
    datasets.push({
      data: mean.map((v, i) => ({ x: GENERATION[i], y: v - errAt(i) })),
      borderColor: 'rgba(0,0,0,0)',
      borderWidth: 0,
      pointRadius: 0,
      fill: false,
      order: 20 - k,
    });
    datasets.push({
      data: mean.map((v, i) => ({ x: GENERATION[i], y: v + errAt(i) })),
      borderColor: 'rgba(0,0,0,0)',
      borderWidth: 0,
      pointRadius: 0,
      backgroundColor: rgba(COLORS[k], 0.3),
      fill: '-1',
      order: 20 - k,
    });
  });
  panel.series.forEach((mean: number[], k: number) => {
    datasets.push({
      label: MODELS[k],
      data: mean.map((v, i) => ({ x: GENERATION[i], y: v })),
      borderColor: COLORS[k],
      borderWidth: 1,
      pointRadius: 0,
      fill: false,
      tension: 0,
      order: 10 - k,
    });
  });

  const fmt = (v: number) => (r === 0 ? v.toFixed(3) : r === 1 ? v.toFixed(1) : String(v));
  const plugins: any[] = [];
  if (r === 0) plugins.push(titlePlugin(c, g.left, g.top));
  if (r === 0 && c === 0) plugins.push(legendPlugin);

  return {
    type: 'line',
    data: { datasets },
    plugins,
    options: {
      animation: false,
      responsive: false,
      devicePixelRatio: 1,
      events: [],
      layout: { padding: { left: 0, top: g.padT, right: PAD_R, bottom: 0 } },
      plugins: { legend: { display: false }, tooltip: { enabled: false }, title: { display: false } },
      scales: {
        x: {
          type: 'linear',
          min: X_MIN,
          max: X_MAX,
          afterBuildTicks: (s: any) => {
            s.ticks = X_TICKS.map((v) => ({ value: v }));
          },
          afterFit: (s: any) => {
            s.height = g.padB;
          },
          grid: { drawOnChartArea: false, drawTicks: true, tickLength: 2, tickColor: TICK },
          border: { display: true, color: SPINE, width: 1 },
          ticks: {
            display: r === 3,
            autoSkip: false,
            maxRotation: 0,
            padding: 1,
            color: TEXT,
            font: { family: FONT, size: 4.5, weight: 'bold' },
          },
          title: {
            display: r === 3,
            text: 'Generation',
            color: TEXT,
            font: { family: FONT, size: 5.1, weight: 'bold' },
            padding: { top: 0, bottom: 2.6 },
          },
        },
        y: {
          type: 'linear',
          min: Y_MIN[r],
          max: Y_MAX[r],
          afterBuildTicks: (s: any) => {
            s.ticks = Y_TICKS[r].map((v) => ({ value: v }));
          },
          afterFit: (s: any) => {
            s.width = g.padL;
          },
          grid: { color: GRID, lineWidth: 0.8, drawTicks: true, tickLength: 2, tickColor: TICK },
          border: { display: true, color: SPINE, width: 1 },
          ticks: {
            display: c === 0,
            autoSkip: false,
            padding: 2,
            color: TEXT,
            font: { family: FONT, size: 4.5, weight: 'bold' },
            callback: (v: number) => fmt(v),
          },
          title: {
            display: c === 0,
            text: METRICS[r],
            color: TEXT,
            font: { family: FONT, size: 4.7, weight: 'bold' },
            padding: { top: 2, bottom: 0 },
          },
        },
      },
    },
  };
}

export default function App() {
  const refs = useRef<(HTMLCanvasElement | null)[]>([]);

  useEffect(() => {
    const charts: Chart[] = [];
    for (let r = 0; r < 4; r++) {
      for (let c = 0; c < 3; c++) {
        const cv = refs.current[r * 3 + c];
        if (cv) charts.push(new Chart(cv, buildConfig(r, c)));
      }
    }
    return () => charts.forEach((ch) => ch.destroy());
  }, []);

  const canvases: any[] = [];
  for (let r = 0; r < 4; r++) {
    for (let c = 0; c < 3; c++) {
      const g = geometry(r, c);
      const i = r * 3 + c;
      canvases.push(
        <canvas
          key={i}
          ref={(el) => {
            refs.current[i] = el;
          }}
          width={g.width}
          height={g.height}
          style={{ position: 'absolute', left: g.left, top: g.top, width: g.width, height: g.height }}
        />
      );
    }
  }

  return (
    <div
      style={{
        position: 'fixed',
        left: 0,
        top: 0,
        width: 415,
        height: 365,
        background: '#ffffff',
        overflow: 'hidden',
      }}
    >
      {canvases}
    </div>
  );
}
